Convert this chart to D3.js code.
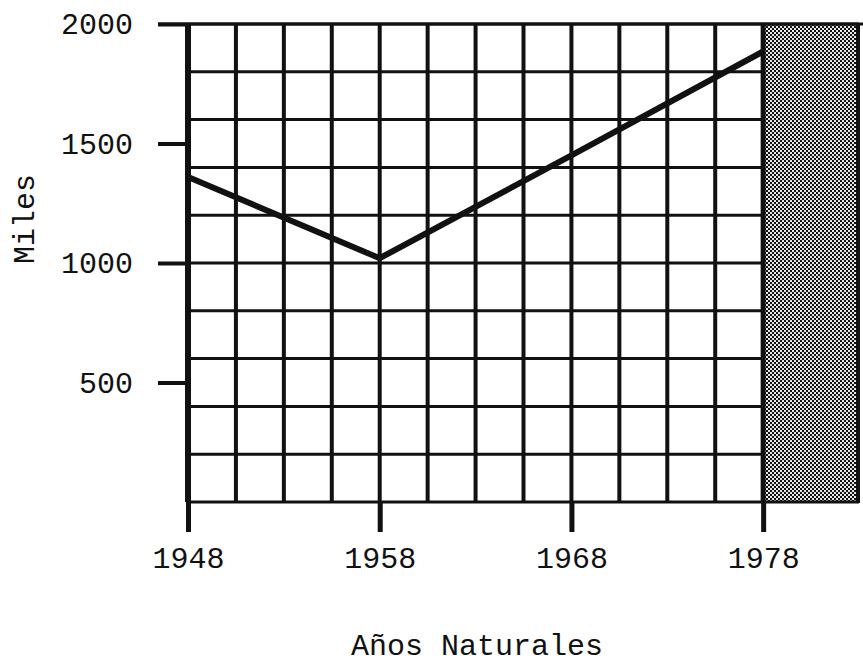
<!DOCTYPE html>
<html>
<head>
<meta charset="utf-8">
<script src="https://cdn.jsdelivr.net/npm/d3@7"></script>
<style>
  body { margin: 0; background: #fff; }
  svg { display: block; }
  text { font-family: "Liberation Mono", "DejaVu Sans Mono", monospace; fill: #111; }
</style>
</head>
<body>
<svg width="863" height="666"></svg>
<script>
// data
const years = [1948, 1958, 1968, 1978];
const miles = [1360, 1020, 1450, 1885];
const yTicks = [500, 1000, 1500, 2000];
const xTicks = [1948, 1958, 1968, 1978];
const shadedFrom = 1978, shadedTo = 1983;

const svg = d3.select("svg");

const x = d3.scaleLinear().domain([1948, 1983]).range([188, 859]);
const y = d3.scaleLinear().domain([0, 2000]).range([502, 24]);

// checker pattern for the shaded (future) zone
const defs = svg.append("defs");
const pat = defs.append("pattern")
  .attr("id", "checker")
  .attr("width", 4).attr("height", 4)
  .attr("patternUnits", "userSpaceOnUse");
pat.append("rect").attr("width", 4).attr("height", 4).attr("fill", "#e8e8e8");
pat.append("rect").attr("width", 2).attr("height", 2).attr("fill", "#111");
pat.append("rect").attr("x", 2).attr("y", 2).attr("width", 2).attr("height", 2).attr("fill", "#111");

svg.append("rect")
  .attr("x", x(shadedFrom))
  .attr("y", y(2000))
  .attr("width", x(shadedTo) - x(shadedFrom))
  .attr("height", y(0) - y(2000))
  .attr("fill", "url(#checker)");

// grid
const gridX = d3.range(1948, 1978.01, 2.5);
const gridY = d3.range(0, 2000.01, 200);

svg.append("g").selectAll("line")
  .data(gridY)
  .join("line")
  .attr("x1", x(1948))
  .attr("x2", d => (d === 0 || d === 2000) ? x(shadedTo) : x(shadedFrom))
  .attr("y1", d => y(d))
  .attr("y2", d => y(d))
  .attr("stroke", "#111")
  .attr("stroke-width", 3);

svg.append("g").selectAll("line")
  .data(gridX)
  .join("line")
  .attr("x1", d => x(d))
  .attr("x2", d => x(d))
  .attr("y1", y(2000))
  .attr("y2", y(0))
  .attr("stroke", "#111")
  .attr("stroke-width", d => d === 1948 ? 6 : (d === 1978 ? 5 : 4));

// right border of shaded zone
svg.append("line")
  .attr("x1", x(shadedTo) - 1).attr("x2", x(shadedTo) - 1)
  .attr("y1", y(2000)).attr("y2", y(0) + 1)
  .attr("stroke", "#111").attr("stroke-width", 4);

// top line runs out to the 2000 tick and the right edge
svg.append("line")
  .attr("x1", 158).attr("x2", 863)
  .attr("y1", y(2000)).attr("y2", y(2000))
  .attr("stroke", "#111").attr("stroke-width", 3);

// axes
const yAxis = d3.axisLeft(y).tickValues(yTicks).tickSize(30).tickPadding(25).tickSizeOuter(0)
  .tickFormat(d3.format("d"));
const xAxis = d3.axisBottom(x).tickValues(xTicks).tickSize(30).tickPadding(15).tickSizeOuter(0)
  .tickFormat(d3.format("d"));

const gy = svg.append("g").attr("transform", `translate(${x(1948)},0)`).call(yAxis);
const gx = svg.append("g").attr("transform", `translate(0,${y(0)})`).call(xAxis);

[gy, gx].forEach(g => {
  g.select(".domain").remove();
  g.selectAll(".tick line").attr("stroke", "#111");
  g.selectAll(".tick text")
    .style("font-family", '"Liberation Mono", monospace')
    .style("font-size", "30px")
    .attr("fill", "#111");
});
gy.selectAll(".tick line").attr("stroke-width", 4);
gx.selectAll(".tick line").attr("stroke-width", 5);

// data line
const line = d3.line()
  .x((d, i) => x(years[i]))
  .y(d => y(d));

svg.append("path")
  .datum(miles)
  .attr("fill", "none")
  .attr("stroke", "#111")
  .attr("stroke-width", 6)
  .attr("d", line);

// axis titles
svg.append("text")
  .attr("transform", "translate(34,219) rotate(-90)")
  .attr("text-anchor", "middle")
  .style("font-size", "30px")
  .text("Miles");

svg.append("text")
  .attr("x", 477)
  .attr("y", 655)
  .attr("text-anchor", "middle")
  .style("font-size", "30px")
  .text("Años Naturales");
</script>
</body>
</html>
